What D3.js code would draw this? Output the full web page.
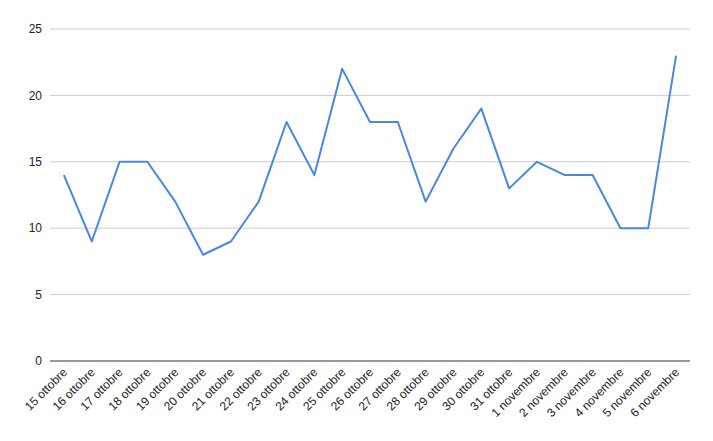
<!DOCTYPE html>
<html><head><meta charset="utf-8">
<script src="https://cdn.jsdelivr.net/npm/d3@7"></script>
<style>body{margin:0;background:#fff;font-family:"Liberation Sans",Arial,sans-serif;}</style>
</head><body><svg id="c" width="713" height="441"></svg>
<script>
const categories = ["15 ottobre","16 ottobre","17 ottobre","18 ottobre","19 ottobre","20 ottobre","21 ottobre","22 ottobre","23 ottobre","24 ottobre","25 ottobre","26 ottobre","27 ottobre","28 ottobre","29 ottobre","30 ottobre","31 ottobre","1 novembre","2 novembre","3 novembre","4 novembre","5 novembre","6 novembre"];
const values = [14,9,15,15,12,8,9,12,18,14,22,18,18,12,16,19,13,15,14,14,10,10,23];
const yTicks = [0,5,10,15,20,25];

(function(){
const svg = d3.select("#c");
const mLeft = 50, mRight = 690, mTop = 29, mBottom = 361;
const x = d3.scalePoint().domain(categories).range([mLeft, mRight]).padding(0.5);
const y = d3.scaleLinear().domain([0,25]).range([mBottom, mTop]);

const g = svg.append("g");
g.selectAll("line.grid").data(yTicks.filter(d=>d>0)).join("line")
  .attr("x1", mLeft).attr("x2", mRight)
  .attr("y1", d=>y(d)).attr("y2", d=>y(d))
  .attr("stroke", "#cccccc").attr("stroke-width", 1);
g.append("line").attr("x1", mLeft).attr("x2", mRight).attr("y1", y(0)).attr("y2", y(0))
  .attr("stroke", "#333333").attr("stroke-width", 1);

g.selectAll("text.yl").data(yTicks).join("text")
  .attr("x", 42).attr("y", d=>y(d)).attr("dy", "0.35em")
  .attr("text-anchor", "end").attr("font-size", 12).attr("fill", "#222")
  .text(d=>d);

g.selectAll("text.xl").data(categories).join("text")
  .attr("transform", d=>`translate(${x(d)+4},${y(0)+12}) rotate(-45)`)
  .attr("text-anchor", "end").attr("font-size", 12).attr("fill", "#222")
  .text(d=>d);

const line = d3.line().x((d,i)=>x(categories[i])).y(d=>y(d));
g.append("path").datum(values).attr("d", line)
  .attr("fill","none").attr("stroke","#4a86e8").attr("stroke-width",2).attr("stroke-linejoin","round");
})();
</script></body></html>
